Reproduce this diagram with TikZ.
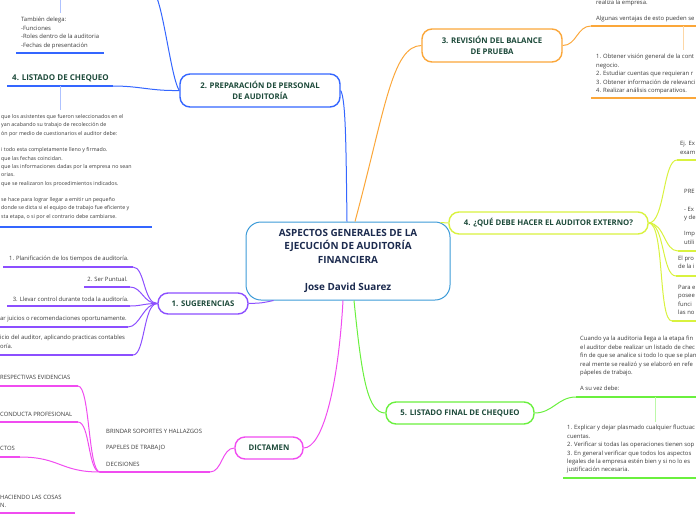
\documentclass[tikz,border=0pt]{standalone}
\usepackage{fontspec}
\setmainfont{Open Sans}
\usetikzlibrary{positioning,calc}
\definecolor{mainBlue}{HTML}{3C9BD8}
\definecolor{mainText}{HTML}{1B2A4E}
\definecolor{topicText}{HTML}{1D4A3A}
\definecolor{noteText}{HTML}{3A3A3A}
\definecolor{prepBlue}{HTML}{3466FF}
\definecolor{revOrange}{HTML}{FBA73A}
\definecolor{extLime}{HTML}{D9F23F}
\definecolor{sugPurple}{HTML}{8C4FFF}
\definecolor{finGreen}{HTML}{6AF03E}
\definecolor{dicPink}{HTML}{F04CF0}
\tikzset{
  mainbox/.style={draw=mainBlue, line width=1pt, fill=white, rounded corners=15pt,
    minimum width=204pt, minimum height=78pt, align=center, text=mainText,
    font=\fontsize{9.9}{13.6}\selectfont\bfseries},
  topicbox/.style={line width=1.4pt, fill=white, rounded corners=10pt, align=center,
    inner sep=0pt, text=topicText, font=\fontsize{7.8}{11}\selectfont\bfseries},
  notetext/.style={inner sep=0pt, align=left, text=noteText,
    font=\fontsize{5.9}{8.5}\selectfont},
  subtitle/.style={inner sep=0pt, text=topicText, font=\fontsize{8}{9}\selectfont\bfseries},
  bar/.style={line width=2.3pt},
  link/.style={line width=1pt},
  stem/.style={line width=0.8pt},
}
\begin{document}
\begin{tikzpicture}[x=1pt, y=-1pt]
  \useasboundingbox (0,0) rectangle (696,520);

  % centre and main topics
  \node[mainbox] (center) at (348,261) {ASPECTOS GENERALES DE LA\\EJECUCIÓN DE AUDITORÍA\\FINANCIERA\\[13.6pt]Jose David Suarez};
  \node[topicbox, draw=prepBlue, minimum width=160pt, minimum height=33pt] (prep) at (260,90.5) {2. PREPARACIÓN DE PERSONAL\\DE AUDITORÍA};
  \node[topicbox, draw=revOrange, minimum width=140pt, minimum height=33pt] (rev) at (492,45.5) {3. REVISIÓN DEL BALANCE\\DE PRUEBA};
  \node[topicbox, draw=extLime, minimum width=199pt, minimum height=22pt] (qde) at (548.5,223) {4. ¿QUÉ DEBE HACER EL AUDITOR EXTERNO?};
  \node[topicbox, draw=sugPurple, minimum width=90pt, minimum height=21pt] (sug) at (203,303.5) {1. SUGERENCIAS};
  \node[topicbox, draw=finGreen, minimum width=148pt, minimum height=22pt] (fin) at (460,413) {5. LISTADO FINAL DE CHEQUEO};
  \node[topicbox, draw=dicPink, minimum width=68pt, minimum height=22pt] (dic) at (269,448) {DICTAMEN};

  \draw[link, prepBlue] ($(center.north)+(-1,0)$) .. controls (346,150) and (346,100) .. (prep.east);
  \draw[link, revOrange] ($(center.north)+(7,0)$) .. controls (385,110) and (392,46) .. (rev.west);
  \draw[link, extLime] ($(center.north east)+(-10,1)$) .. controls (444,222) .. (qde.west);
  \draw[link, sugPurple] ($(center.south west)+(28,0)$) .. controls (262,303) .. (sug.east);
  \draw[link, dicPink] ($(center.south)+(-5,0)$) .. controls (338,390) and (322,448) .. (dic.east);
  \draw[link, finGreen] ($(center.south)+(6,0)$) .. controls (362,380) and (368,413) .. (fin.west);

  % 2. preparacion
  \coordinate (delLink) at (157,-2);
  \coordinate (delStemTop) at (60,0);
  \coordinate (delStemBot) at (60,13);
  \node[notetext, anchor=north west] (delNote) at (21,17.2) {También delega:\\-Funciones\\-Roles dentro de la auditoria\\-Fechas de presentación};
  \coordinate (delBarL) at (16,53);
  \coordinate (delBarR) at (104,53);
  \draw[stem, prepBlue!40] (delStemTop) -- (delStemBot);
  \draw[bar, prepBlue] (delBarL) -- (delBarR);
  \draw[link, prepBlue] (prep.west) .. controls (172,80) and (165,20) .. (delLink);

  \node[subtitle, anchor=base west] (lchTitle) at (12,80) {4. LISTADO DE CHEQUEO};
  \coordinate (lchL) at (7,86);
  \coordinate (lchR) at (113,86);
  \coordinate (lchMid) at (60,86);
  \coordinate (lchStem) at (60,110);
  \draw[bar, prepBlue] (lchL) -- (lchR);
  \draw[link, prepBlue] (prep.west) .. controls (150,91) and (140,86) .. (lchR);
  \draw[stem, prepBlue!40] (lchMid) -- (lchStem);
  \node[notetext, anchor=north west, font=\fontsize{5.3}{8.3}\selectfont] (lchNote) at (1,114.4) {que los asistentes que fueron seleccionados en el\\yan acabando su trabajo de recolección de\\ón por medio de cuestionarios el auditor debe:\\[8.3pt]i todo esta completamente lleno y firmado.\\que las fechas coincidan.\\que las informaciones dadas por la empresa no sean\\orias.\\que se realizaron los procedimientos indicados.\\[8.3pt]se hace para lograr llegar a emitir un pequeño\\donde se dicta si el equipo de trabajo fue eficiente y\\sta etapa, o si por el contrario debe cambiarse.};
  \coordinate (lchNoteL) at (0,227);
  \coordinate (lchNoteR) at (152,227);
  \draw[bar, prepBlue] (lchNoteL) -- (lchNoteR);

  % 3. revision
  \node[notetext, anchor=north west] (revNote) at (596,0.2) {realiza la empresa.\\[7.5pt]Algunas ventajas de esto pueden se};
  \coordinate (revBarL) at (591,26);
  \coordinate (revBarR) at (696,26);
  \coordinate (revMid) at (683,26);
  \coordinate (revStem) at (683,50);
  \draw[bar, revOrange] (revBarL) -- (revBarR);
  \draw[link, revOrange] (rev.east) .. controls +(14,0) and +(-14,0) .. (revBarL);
  \draw[stem, revOrange!45] (revMid) -- (revStem);
  \node[notetext, anchor=north west] (revList) at (596,54.2) {1. Obtener visión general de la cont\\negocio.\\2. Estudiar cuentas que requieran r\\3. Obtener información de relevanci\\4. Realizar análisis comparativos.};
  \coordinate (revListL) at (591,98);
  \coordinate (revListR) at (696,98);
  \draw[bar, revOrange] (revListL) -- (revListR);

  % 4. auditor externo
  \node[notetext, anchor=north west, font=\fontsize{5.9}{9}\selectfont] (qde1) at (680,141.2) {Ej. Ex\\exam};
  \node[notetext, anchor=north west] (qde2) at (684,189.2) {PRE\\[9pt]- Ex\\y de\\[7.5pt]Imp\\utili};
  \node[notetext, anchor=north west] (qde3) at (678,255.7) {El pro\\de la i};
  \node[notetext, anchor=north west] (qde4) at (678,284.7) {Para e\\posee\\funci\\las no};
  \foreach \i/\y/\x in {1/160/677, 2/251/678, 3/276/676, 4/321/672} {
    \coordinate (qBarL\i) at (\x,\y);
    \coordinate (qBarR\i) at (696,\y);
    \draw[bar, extLime] (qBarL\i) -- (qBarR\i);
    \draw[link, extLime] (qde.east) .. controls +(16,0) and +(-14,0) .. (qBarL\i);
  }

  % 1. sugerencias
  \node[notetext, anchor=base east] (sug1) at (129,260) {1. Planificación de los tiempos de auditoría.};
  \node[notetext, anchor=base east] (sug2) at (128,281) {2. Ser Puntual.};
  \node[notetext, anchor=base east] (sug3) at (129,301) {3. Llevar control durante toda la auditoría.};
  \node[notetext, anchor=base east] (sug4) at (127,320.5) {ar juicios o recomendaciones oportunamente.};
  \node[notetext, anchor=north west] (sug5) at (0,335.2) {icio del auditor, aplicando practicas contables\\oría.};
  \foreach \i/\y/\a/\b in {1/267/3/133, 2/287/84/130, 3/306/7/130, 4/327/0/128, 5/355/0/133} {
    \coordinate (sBarL\i) at (\a,\y);
    \coordinate (sBarR\i) at (\b,\y);
    \draw[bar, sugPurple] (sBarL\i) -- (sBarR\i);
    \draw[link, sugPurple] (sug.west) .. controls +(-14,0) and +(12,0) .. (sBarR\i);
  }

  % dictamen
  \node[notetext, anchor=north west] (dicNote) at (106,428.9) {BRINDAR SOPORTES Y HALLAZGOS\\[8pt]PAPELES DE TRABAJO\\[8pt]DECISIONES};
  \coordinate (dicL) at (100,472);
  \coordinate (dicR) at (210,472);
  \draw[bar, dicPink] (dicL) -- (dicR);
  \draw[link, dicPink] (dic.west) .. controls (222,448) and (222,472) .. (dicR);
  \node[notetext, anchor=base west] (dic1) at (0,379) {RESPECTIVAS EVIDENCIAS};
  \node[notetext, anchor=base west] (dic2) at (0,416) {CONDUCTA PROFESIONAL};
  \node[notetext, anchor=base west] (dic3) at (0,450) {CTOS};
  \node[notetext, anchor=north west] (dic4) at (0,494.9) {HACIENDO LAS COSAS\\N.};
  \foreach \i/\y/\b in {1/386/78, 2/422/78, 3/457/20, 4/513/75} {
    \coordinate (dBarL\i) at (0,\y);
    \coordinate (dBarR\i) at (\b,\y);
    \draw[bar, dicPink] (dBarL\i) -- (dBarR\i);
  }
  \draw[link, dicPink] (dicL) .. controls +(-12,0) and +(12,0) .. (dBarR1);
  \draw[link, dicPink] (dicL) .. controls +(-12,0) and +(12,0) .. (dBarR2);
  \draw[link, dicPink] (dicL) .. controls +(-40,0) and +(40,0) .. (dBarR3);

  % 5. listado final
  \node[notetext, anchor=north west] (finNote) at (580,336.2) {Cuando ya la auditoria llega a la etapa fin\\el auditor debe realizar un listado de chec\\fin de que se analice si todo lo que se plan\\real mente se realizó y se elaboró en refe\\pápeles de trabajo.\\[7.5pt]A su vez debe:};
  \coordinate (finBarL) at (576,397);
  \coordinate (finBarR) at (696,397);
  \coordinate (finMid) at (655,397);
  \coordinate (finStem) at (655,422);
  \draw[bar, finGreen] (finBarL) -- (finBarR);
  \draw[link, finGreen] (fin.east) .. controls +(18,0) and +(-18,0) .. (finBarL);
  \draw[stem, finGreen!45] (finMid) -- (finStem);
  \node[notetext, anchor=north west, font=\fontsize{5.9}{8.4}\selectfont] (finList) at (567,425.2) {1. Explicar y dejar plasmado cualquier fluctuac\\cuentas.\\2. Verificar si todas las operaciones tienen sop\\3. En general verificar que todos los aspectos\\legales de la empresa estén bien y si no lo es\\justificación necesaria.};
  \coordinate (finListL) at (563,478);
  \coordinate (finListR) at (696,478);
  \draw[bar, finGreen] (finListL) -- (finListR);
\end{tikzpicture}
\end{document}
